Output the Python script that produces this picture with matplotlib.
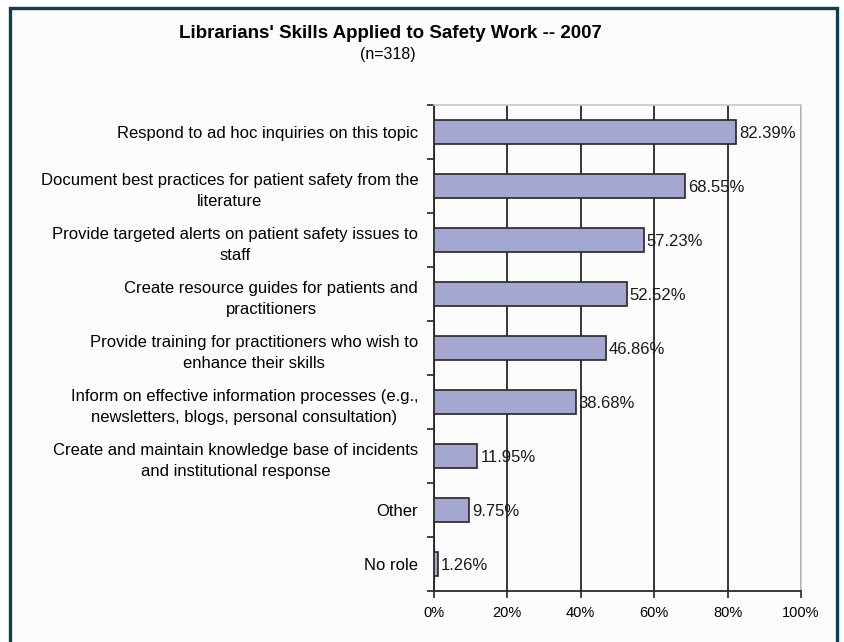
import matplotlib.pyplot as plt
from matplotlib.patches import Rectangle
import numpy as np

plt.rcParams['font.family'] = ['Liberation Sans', 'DejaVu Sans']

CATEGORIES = [
    "Respond to ad hoc inquiries on this topic",
    "Document best practices for patient safety from the\nliterature",
    "Provide targeted alerts on patient safety issues to\nstaff",
    "Create resource guides for patients and\npractitioners",
    "Provide training for practitioners who wish to\nenhance their skills",
    "Inform on effective information processes (e.g.,\nnewsletters, blogs, personal consultation)",
    "Create and maintain knowledge base of incidents\nand institutional response",
    "Other",
    "No role",
]
VALUES = [82.39, 68.55, 57.23, 52.52, 46.86, 38.68, 11.95, 9.75, 1.26]
X_TICKS = [0, 20, 40, 60, 80, 100]

fig = plt.figure(figsize=(8.44, 6.42), dpi=100)
fig.patch.set_facecolor('white')

# dark frame around the chart
fig.patches.append(Rectangle((9.5 / 844, -0.05), 827 / 844, 1.05 - 7.5 / 642,
                             transform=fig.transFigure, facecolor='#fcfcfc',
                             edgecolor='#0e3f4f', linewidth=2.4, zorder=-1))

ax = fig.add_axes([433.5 / 844, 1 - 591 / 642, 367.5 / 844, 486 / 642])
ax.set_facecolor('none')

n = len(CATEGORIES)
y = np.arange(n)
ax.barh(y, VALUES, height=0.43, color='#a4a7d0', edgecolor='#2a2525',
        linewidth=1.2, zorder=3)

for yi, v in zip(y, VALUES):
    ax.text(v + 0.8, yi + 0.03, f"{v:.2f}%", va='center', ha='left',
            fontsize=12, color='#1a1a1a', zorder=4)

ax.set_xlim(0, 100)
ax.set_ylim(n - 0.5, -0.5)
ax.set_xticks(X_TICKS)
ax.set_xticklabels([f"{t}%" for t in X_TICKS], fontsize=10.5)
ax.xaxis.grid(True, color='#2a2525', linewidth=1.3, zorder=1)
ax.set_axisbelow(True)

# category ticks at boundaries, labels at centers
ax.set_yticks(np.arange(n + 1) - 0.5)
ax.set_yticklabels([])
ax.set_yticks(y, minor=True)
ax.set_yticklabels(CATEGORIES, minor=True, fontsize=12, ha='right',
                   multialignment='center', linespacing=1.55)
ax.tick_params(axis='y', which='minor', length=0, pad=11)
ax.tick_params(axis='y', which='major', length=5, width=1.2, color='#2a2525')
ax.tick_params(axis='x', length=5, width=1.2, color='#2a2525', pad=6)

for s in ['left', 'bottom']:
    ax.spines[s].set_color('#2a2525')
    ax.spines[s].set_linewidth(1.3)
for s in ['top', 'right']:
    ax.spines[s].set_color('#c8c8c8')
    ax.spines[s].set_linewidth(1.2)

fig.text(390 / 844, 1 - 33 / 642, "Librarians' Skills Applied to Safety Work -- 2007",
         ha='center', va='center', fontsize=13.5, fontweight='bold')
fig.text(388 / 844, 1 - 55 / 642, "(n=318)", ha='center', va='center', fontsize=11.5)

fig.savefig('out.png', dpi=100)
